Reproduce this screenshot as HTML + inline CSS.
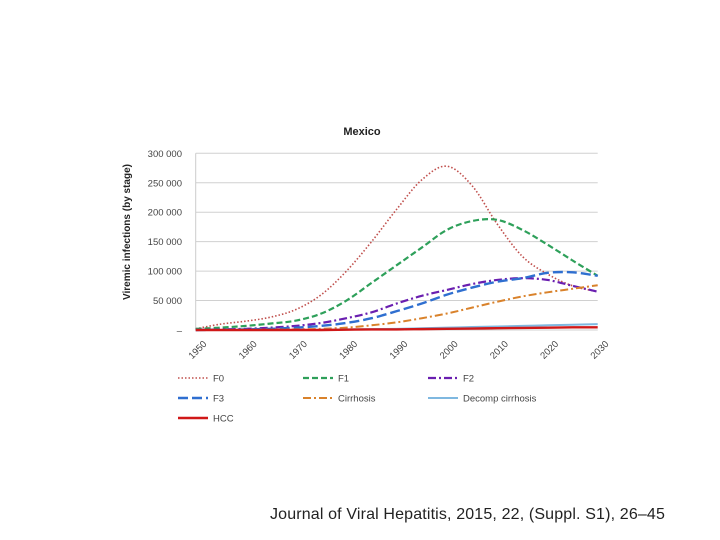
<!DOCTYPE html>
<html><head><meta charset="utf-8"><style>
body{margin:0;width:720px;height:540px;background:#fff;overflow:hidden;font-family:"Liberation Sans",sans-serif}
svg{position:absolute;left:0;top:0}
#cite{position:absolute;left:270px;top:506px;font-size:16px;color:#222;white-space:nowrap;letter-spacing:0.15px}
</style></head><body>
<svg id="chart" width="720" height="540"></svg>
<div id="cite">Journal of Viral Hepatitis, 2015, 22, (Suppl. S1), 26–45</div>
<script>
const years=[1950,1955,1960,1965,1970,1975,1980,1985,1990,1995,2000,2005,2010,2015,2020,2025,2030];
const f0=[2,10,15,22,35,60,100,150,205,255,278,245,180,125,95,75,65];
const f1=[2,4,7,11,16,28,50,80,110,140,170,185,187,170,145,118,92];
const f2=[0,1,2,4,7,12,20,30,45,58,68,78,85,88,85,75,65];
const f3=[0,0.5,1,2,4,7,12,20,32,45,60,72,82,88,97,98,92];
const cirr=[0,0,0,0.5,1,2,4,8,13,20,28,38,48,57,64,70,76];
const decomp=[0,0,0,0,0,0.5,1,1.5,2,3,4,5,6,7,8,9,10];
const hcc=[0,0,0,0,0,0,0.5,1,1,1.5,2,2.5,3,3.5,4,4.5,4.5];
const yTicks=[0,50,100,150,200,250,300];
const yTickLabels=["–","50 000","100 000","150 000","200 000","250 000","300 000"];
const xTicks=[1950,1960,1970,1980,1990,2000,2010,2020,2030];
const series=[
 {name:"F0",d:f0,c:"#c0504d",dash:"1.5 2",w:1.6},
 {name:"F1",d:f1,c:"#2ea05a",dash:"6 3",w:2.2},
 {name:"F2",d:f2,c:"#6a1fb0",dash:"8 3 2 3",w:2.2},
 {name:"F3",d:f3,c:"#2f6fd0",dash:"10 4",w:2.4},
 {name:"Cirrhosis",d:cirr,c:"#d9822b",dash:"8 3 2 3",w:2},
 {name:"Decomp cirrhosis",d:decomp,c:"#7fb8e0",dash:"",w:2},
 {name:"HCC",d:hcc,c:"#d01818",dash:"",w:2.4}];
const X0=195.7,X1=597.7,Y0=330,Y300=153.3;
const xs=v=>X0+(v-1950)/80*(X1-X0);
const ys=v=>Y0-v/300*(Y0-Y300);
const svg=document.getElementById('chart');const NS="http://www.w3.org/2000/svg";
function el(t,a,p){const e=document.createElementNS(NS,t);for(const k in a)e.setAttribute(k,a[k]);(p||svg).appendChild(e);return e;}
function smooth(pts){let d=`M${pts[0][0]},${pts[0][1]}`;for(let i=0;i<pts.length-1;i++){const p0=pts[i-1]||pts[i],p1=pts[i],p2=pts[i+1],p3=pts[i+2]||p2;
 d+=` C${p1[0]+(p2[0]-p0[0])/6},${p1[1]+(p2[1]-p0[1])/6} ${p2[0]-(p3[0]-p1[0])/6},${p2[1]-(p3[1]-p1[1])/6} ${p2[0]},${p2[1]}`;}return d;}
let t=el('text',{x:362,y:135,'text-anchor':'middle','font-size':11,'font-weight':'bold',fill:'#222'});t.textContent="Mexico";


t=el('text',{transform:'translate(130,232) rotate(-90)','text-anchor':'middle','font-size':10,'font-weight':'bold',fill:'#222'});t.textContent="Viremic infections (by stage)";


yTicks.forEach((v,i)=>{
 const g=el('line',{x1:X0,x2:X1,y1:ys(v),y2:ys(v),stroke:'#d0d0d0','stroke-width':1});
 
 
 const l=el('text',{x:182,y:ys(v)+3.5,'text-anchor':'end','font-size':9.5,fill:'#444'});l.textContent=yTickLabels[i];
 
 
});
const ax=el('line',{x1:X0,x2:X0,y1:Y300,y2:Y0,stroke:'#ccc'});


xTicks.forEach(v=>{
 const l=el('text',{transform:`translate(${xs(v)+4},${Y0+22}) rotate(-45)`,'text-anchor':'middle','font-size':9.5,fill:'#444'});l.textContent=v;
 
 
});
series.forEach(s=>{
 const p=el('path',{d:smooth(s.d.map((v,i)=>[xs(years[i]),ys(v)])),fill:'none',stroke:s.c,'stroke-width':s.w,'stroke-dasharray':s.dash,'stroke-linejoin':'round'});
 
 
});
series.forEach((s,i)=>{
 const cx=178+(i%3)*125, cy=378+Math.floor(i/3)*20;
 const g=el('g',{});
 
 
 el('line',{x1:cx,x2:cx+30,y1:cy,y2:cy,stroke:s.c,'stroke-width':s.w,'stroke-dasharray':s.dash},g);
 const l=el('text',{x:cx+35,y:cy+3.5,'font-size':9.5,fill:'#444'},g);l.textContent=s.name;
});
</script>
</body></html>
